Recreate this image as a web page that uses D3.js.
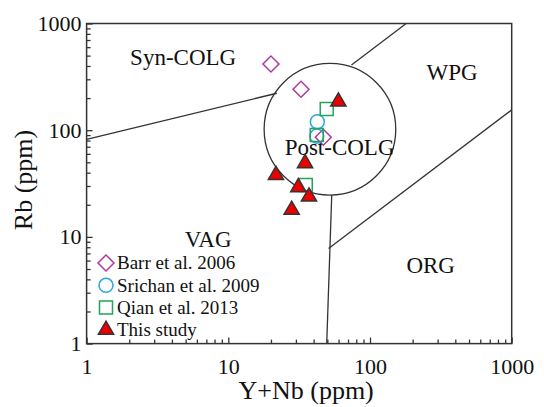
<html lang="en">
<head>
  <meta charset="UTF-8">
  <title>Rb vs Y+Nb</title>
  <style>
    body { margin: 0; background: #fff; }
    text { font-family: "Liberation Serif", "Times New Roman", serif; fill: #111; }
  </style>
</head>
<body>
  <script src="https://d3js.org/d3.v7.min.js"></script>
  <div id="chart"></div>

  <script>
    // ---- data ----
    let xMajor = [1, 10, 100, 1000];
    let yMajor = [1, 10, 100, 1000];

    // field boundaries, [Y+Nb, Rb]
    let lineSynVag = [[1, 82], [22, 222]];
    let lineSynWpg = [[74, 408], [180, 1000]];
    let lineVagOrg = [[53.7, 24.7], [49.5, 1]];
    let lineWpgOrg = [[51, 7.8], [1000, 155]];
    let postColg = { xMin: 17.9, xMax: 152, y: 102 };

    let fieldLabels = [
      { name: "Syn-COLG", x: 4.8, y: 405 },
      { name: "WPG", x: 380, y: 295 },
      { name: "Post-COLG", x: 61, y: 58 },
      { name: "VAG", x: 7.2, y: 8.0 },
      { name: "ORG", x: 268, y: 4.6 }
    ];

    let barr = [[20.0, 417], [32.6, 242], [46.8, 86]];
    let srichan = [[42.5, 120], [42.1, 88]];
    let qian = [[49.5, 158], [42.1, 90], [35.2, 30.6]];
    let thisStudy = [[59.8, 185], [34.8, 49], [21.7, 38], [31.2, 29.2], [37.1, 23.8], [28.0, 17.9]];

    let legendKeys = ["Barr et al. 2006", "Srichan et al. 2009", "Qian et al. 2013", "This study"];

    function translate(x, y) { return 'translate(' + x + ',' + y + ')'; }

    let serif = '"Liberation Serif", "Times New Roman", serif';
    let W = 544, H = 407;
    let margin = { left: 86.6, right: 511.7, top: 23.5, bottom: 343.6 };

    let svg = d3.select("#chart").append("svg")
      .attr("width", W)
      .attr("height", H);

    let x = d3.scaleLog().domain([1, 1000]).range([margin.left, margin.right]);
    let y = d3.scaleLog().domain([1, 1000]).range([margin.bottom, margin.top]);

    let minors = [];
    for (let d = 1; d < 1000; d *= 10)
      for (let k = 2; k < 10; k++) minors.push(d * k);

    // ---- axes (ticks point inward) ----
    let gx = svg.append("g").attr("transform", translate(0, margin.bottom));
    gx.append("g")
      .call(d3.axisBottom(x).tickValues(minors).tickSize(-4).tickSizeOuter(0).tickFormat(""));
    gx.append("g")
      .call(d3.axisBottom(x).tickValues(xMajor).tickSize(-6).tickSizeOuter(0)
        .tickPadding(15).tickFormat(d3.format("d")))
      .attr("font-family", serif)
      .attr("font-size", 22);

    let gy = svg.append("g").attr("transform", translate(margin.left, 0));
    gy.append("g")
      .call(d3.axisLeft(y).tickValues(minors).tickSize(-4).tickSizeOuter(0).tickFormat(""));
    gy.append("g")
      .call(d3.axisLeft(y).tickValues(yMajor).tickSize(-6).tickSizeOuter(0)
        .tickPadding(5).tickFormat(d3.format("d")))
      .attr("font-family", serif)
      .attr("font-size", 22);

    svg.selectAll(".domain").remove();
    svg.selectAll(".tick line").attr("stroke", "#333").attr("stroke-width", 1.3);
    svg.selectAll(".tick text").attr("fill", "#111");

    // frame
    svg.append("rect")
      .attr("x", margin.left).attr("y", margin.top)
      .attr("width", margin.right - margin.left).attr("height", margin.bottom - margin.top)
      .attr("fill", "none").attr("stroke", "#333").attr("stroke-width", 1.5);

    // ---- field boundaries ----
    let line = d3.line().x(d => x(d[0])).y(d => y(d[1]));
    [lineSynVag, lineSynWpg, lineVagOrg, lineWpgOrg].forEach(l => {
      svg.append("path")
        .attr("d", line(l))
        .attr("fill", "none")
        .attr("stroke", "#333")
        .attr("stroke-width", 1.3);
    });

    let cx = (x(postColg.xMin) + x(postColg.xMax)) / 2;
    let r = (x(postColg.xMax) - x(postColg.xMin)) / 2;
    svg.append("circle")
      .attr("cx", cx).attr("cy", y(postColg.y)).attr("r", r)
      .attr("fill", "none").attr("stroke", "#333").attr("stroke-width", 1.3);

    fieldLabels.forEach(f => {
      svg.append("text")
        .attr("x", x(f.x)).attr("y", y(f.y))
        .attr("text-anchor", "middle")
        .style("font-size", "23px")
        .text(f.name);
    });

    // ---- markers ----
    let styles = [
      { data: barr, type: d3.symbolSquare, size: 128, rot: 45, fill: "none", stroke: "#b23a9e" },
      { data: srichan, type: d3.symbolCircle, size: 154, rot: 0, fill: "none", stroke: "#2aa7e4" },
      { data: qian, type: d3.symbolSquare, size: 169, rot: 0, fill: "none", stroke: "#24a35a" },
      { data: thisStudy, type: d3.symbolTriangle, size: 100, rot: 0, fill: "#ee0000", stroke: "#333" }
    ];

    styles.forEach(s => {
      svg.append("g").selectAll("path")
        .data(s.data)
        .enter().append("path")
        .attr("d", d3.symbol().type(s.type).size(s.size))
        .attr("transform", d => translate(x(d[0]), y(d[1])) + " rotate(" + s.rot + ")")
        .attr("fill", s.fill)
        .attr("stroke", s.stroke)
        .attr("stroke-width", 1.5);
    });

    // ---- legend ----
    let legend = svg.append("g").attr("transform", translate(106, 263));
    styles.forEach((s, i) => {
      let row = legend.append("g").attr("transform", translate(0, i * 22.3));
      row.append("path")
        .attr("d", d3.symbol().type(s.type).size(s.size))
        .attr("transform", "rotate(" + s.rot + ")")
        .attr("fill", s.fill)
        .attr("stroke", s.stroke)
        .attr("stroke-width", 1.5);
      row.append("text")
        .attr("x", 11)
        .attr("dy", "0.33em")
        .style("font-size", "19px")
        .text(legendKeys[i]);
    });

    // ---- axis titles ----
    svg.append("text")
      .attr("x", (margin.left + margin.right) / 2 + 7)
      .attr("y", 399)
      .attr("text-anchor", "middle")
      .style("font-size", "26px")
      .text("Y+Nb (ppm)");

    svg.append("text")
      .attr("transform", translate(32, 180) + " rotate(-90)")
      .attr("text-anchor", "middle")
      .style("font-size", "26px")
      .text("Rb (ppm)");
  </script>
</body>
</html>
